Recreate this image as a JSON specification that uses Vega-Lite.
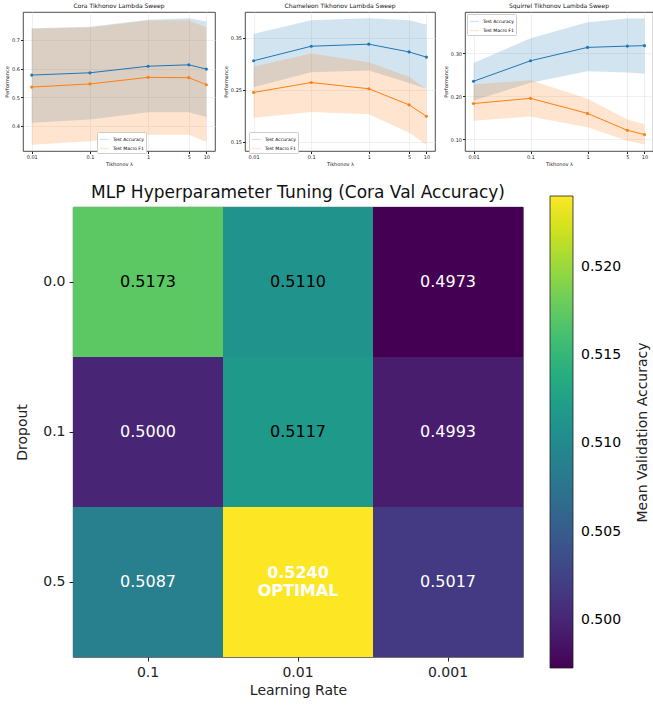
{
  "$schema": "https://vega.github.io/schema/vega-lite/v6.json",
  "background": "white",
  "padding": {"left": 4, "top": 2, "right": 1, "bottom": 2},
  "config": {
    "font": "DejaVu Sans",
    "view": {"stroke": "#222", "strokeWidth": 0.8},
    "axis": {"labelFont": "DejaVu Sans", "titleFont": "DejaVu Sans", "titleFontWeight": "normal", "labelColor": "#222", "titleColor": "#222", "domain": false, "tickColor": "#222", "labelOverlap": false},
    "title": {"font": "DejaVu Sans", "fontWeight": "normal", "color": "#111"},
    "legend": {"labelFont": "DejaVu Sans", "titleFont": "DejaVu Sans"}
  },
  "datasets": {
    "sweep": [
      {"dataset": "Cora", "lam": 0.01, "metric": "Test Accuracy", "mean": 0.577, "lo": 0.410, "hi": 0.741},
      {"dataset": "Cora", "lam": 0.1, "metric": "Test Accuracy", "mean": 0.585, "lo": 0.421, "hi": 0.746},
      {"dataset": "Cora", "lam": 1, "metric": "Test Accuracy", "mean": 0.608, "lo": 0.447, "hi": 0.771},
      {"dataset": "Cora", "lam": 5, "metric": "Test Accuracy", "mean": 0.613, "lo": 0.447, "hi": 0.776},
      {"dataset": "Cora", "lam": 10, "metric": "Test Accuracy", "mean": 0.598, "lo": 0.430, "hi": 0.765},
      {"dataset": "Cora", "lam": 0.01, "metric": "Test Macro F1", "mean": 0.535, "lo": 0.333, "hi": 0.739},
      {"dataset": "Cora", "lam": 0.1, "metric": "Test Macro F1", "mean": 0.546, "lo": 0.345, "hi": 0.744},
      {"dataset": "Cora", "lam": 1, "metric": "Test Macro F1", "mean": 0.569, "lo": 0.368, "hi": 0.768},
      {"dataset": "Cora", "lam": 5, "metric": "Test Macro F1", "mean": 0.568, "lo": 0.368, "hi": 0.769},
      {"dataset": "Cora", "lam": 10, "metric": "Test Macro F1", "mean": 0.543, "lo": 0.343, "hi": 0.744},
      {"dataset": "Chameleon", "lam": 0.01, "metric": "Test Accuracy", "mean": 0.306, "lo": 0.255, "hi": 0.358},
      {"dataset": "Chameleon", "lam": 0.1, "metric": "Test Accuracy", "mean": 0.334, "lo": 0.284, "hi": 0.384},
      {"dataset": "Chameleon", "lam": 1, "metric": "Test Accuracy", "mean": 0.338, "lo": 0.287, "hi": 0.388},
      {"dataset": "Chameleon", "lam": 5, "metric": "Test Accuracy", "mean": 0.323, "lo": 0.263, "hi": 0.384},
      {"dataset": "Chameleon", "lam": 10, "metric": "Test Accuracy", "mean": 0.313, "lo": 0.252, "hi": 0.376},
      {"dataset": "Chameleon", "lam": 0.01, "metric": "Test Macro F1", "mean": 0.245, "lo": 0.196, "hi": 0.295},
      {"dataset": "Chameleon", "lam": 0.1, "metric": "Test Macro F1", "mean": 0.264, "lo": 0.207, "hi": 0.320},
      {"dataset": "Chameleon", "lam": 1, "metric": "Test Macro F1", "mean": 0.252, "lo": 0.203, "hi": 0.303},
      {"dataset": "Chameleon", "lam": 5, "metric": "Test Macro F1", "mean": 0.221, "lo": 0.167, "hi": 0.275},
      {"dataset": "Chameleon", "lam": 10, "metric": "Test Macro F1", "mean": 0.199, "lo": 0.144, "hi": 0.251},
      {"dataset": "Squirrel", "lam": 0.01, "metric": "Test Accuracy", "mean": 0.2345, "lo": 0.190, "hi": 0.277},
      {"dataset": "Squirrel", "lam": 0.1, "metric": "Test Accuracy", "mean": 0.282, "lo": 0.231, "hi": 0.334},
      {"dataset": "Squirrel", "lam": 1, "metric": "Test Accuracy", "mean": 0.313, "lo": 0.258, "hi": 0.371},
      {"dataset": "Squirrel", "lam": 5, "metric": "Test Accuracy", "mean": 0.316, "lo": 0.255, "hi": 0.380},
      {"dataset": "Squirrel", "lam": 10, "metric": "Test Accuracy", "mean": 0.317, "lo": 0.252, "hi": 0.380},
      {"dataset": "Squirrel", "lam": 0.01, "metric": "Test Macro F1", "mean": 0.183, "lo": 0.143, "hi": 0.227},
      {"dataset": "Squirrel", "lam": 0.1, "metric": "Test Macro F1", "mean": 0.195, "lo": 0.153, "hi": 0.237},
      {"dataset": "Squirrel", "lam": 1, "metric": "Test Macro F1", "mean": 0.160, "lo": 0.128, "hi": 0.194},
      {"dataset": "Squirrel", "lam": 5, "metric": "Test Macro F1", "mean": 0.121, "lo": 0.097, "hi": 0.146},
      {"dataset": "Squirrel", "lam": 10, "metric": "Test Macro F1", "mean": 0.111, "lo": 0.088, "hi": 0.135}
    ],
    "grid": [
      {"dropout": "0.0", "lr": "0.1", "acc": 0.5173, "label": "0.5173", "optimal": false},
      {"dropout": "0.0", "lr": "0.01", "acc": 0.5110, "label": "0.5110", "optimal": false},
      {"dropout": "0.0", "lr": "0.001", "acc": 0.4973, "label": "0.4973", "optimal": false},
      {"dropout": "0.1", "lr": "0.1", "acc": 0.5000, "label": "0.5000", "optimal": false},
      {"dropout": "0.1", "lr": "0.01", "acc": 0.5117, "label": "0.5117", "optimal": false},
      {"dropout": "0.1", "lr": "0.001", "acc": 0.4993, "label": "0.4993", "optimal": false},
      {"dropout": "0.5", "lr": "0.1", "acc": 0.5087, "label": "0.5087", "optimal": false},
      {"dropout": "0.5", "lr": "0.01", "acc": 0.5240, "label": "0.5240\nOPTIMAL", "optimal": true},
      {"dropout": "0.5", "lr": "0.001", "acc": 0.5017, "label": "0.5017", "optimal": false}
    ]
  },
  "resolve": {"scale": {"color": "independent"}, "legend": {"color": "independent"}},
  "spacing": 16,
  "vconcat": [
    {
      "resolve": {"scale": {"color": "independent", "y": "independent"}, "legend": {"color": "independent"}},
      "spacing": 6,
      "hconcat": [
        {
          "width": 192, "height": 139,
          "title": {"text": "Cora Tikhonov Lambda Sweep", "fontSize": 6, "offset": 3},
          "data": {"name": "sweep"},
          "transform": [{"filter": "datum.dataset === 'Cora'"}],
          "encoding": {
            "x": {"field": "lam", "type": "quantitative", "scale": {"type": "log", "domain": [0.00708, 14.1], "nice": false, "zero": false},
              "axis": {"title": "Tikhonov λ", "values": [0.01, 0.1, 1, 5, 10], "format": "~g", "labelFontSize": 5, "titleFontSize": 5, "tickSize": 2.5, "labelPadding": 1, "titlePadding": 2, "gridColor": "#e6e6e6", "gridWidth": 0.6}}
          },
          "layer": [
            {
              "mark": {"type": "area", "opacity": 0.2},
              "encoding": {
                "y": {"field": "lo", "type": "quantitative", "scale": {"domain": [0.311, 0.798], "nice": false, "zero": false},
                  "axis": {"title": "Performance", "values": [0.4, 0.5, 0.6, 0.7], "format": ".1f", "labelFontSize": 5, "titleFontSize": 5, "tickSize": 2.5, "labelPadding": 1, "titlePadding": 2, "gridColor": "#e6e6e6", "gridWidth": 0.6}},
                "y2": {"field": "hi"},
                "color": {"field": "metric", "type": "nominal", "scale": {"domain": ["Test Accuracy", "Test Macro F1"], "range": ["#1f77b4", "#ff7f0e"]}}
              }
            },
            {
              "mark": {"type": "line", "strokeWidth": 1, "point": {"size": 10, "filled": true}},
              "encoding": {
                "y": {"field": "mean", "type": "quantitative"},
                "color": {"field": "metric", "type": "nominal",
                  "legend": {"title": null, "orient": "none", "legendX": 74, "legendY": 120, "labelFontSize": 4.5, "symbolSize": 80, "symbolType": "M-1,0H1", "symbolStrokeWidth": 1.2, "symbolOpacity": 1, "rowPadding": 1, "padding": 2, "strokeColor": "#ccc", "fillColor": "white", "cornerRadius": 1, "labelOffset": 3}}
              }
            }
          ]
        },
        {
          "width": 190, "height": 139,
          "title": {"text": "Chameleon Tikhonov Lambda Sweep", "fontSize": 6, "offset": 3},
          "data": {"name": "sweep"},
          "transform": [{"filter": "datum.dataset === 'Chameleon'"}],
          "encoding": {
            "x": {"field": "lam", "type": "quantitative", "scale": {"type": "log", "domain": [0.00708, 14.1], "nice": false, "zero": false},
              "axis": {"title": "Tikhonov λ", "values": [0.01, 0.1, 1, 5, 10], "format": "~g", "labelFontSize": 5, "titleFontSize": 5, "tickSize": 2.5, "labelPadding": 1, "titlePadding": 2, "gridColor": "#e6e6e6", "gridWidth": 0.6}}
          },
          "layer": [
            {
              "mark": {"type": "area", "opacity": 0.2},
              "encoding": {
                "y": {"field": "lo", "type": "quantitative", "scale": {"domain": [0.132, 0.400], "nice": false, "zero": false},
                  "axis": {"title": "Performance", "values": [0.15, 0.2, 0.25, 0.3, 0.35, 0.4], "format": ".2f", "labelFontSize": 5, "titleFontSize": 5, "tickSize": 2.5, "labelPadding": 1, "titlePadding": 2, "gridColor": "#e6e6e6", "gridWidth": 0.6}},
                "y2": {"field": "hi"},
                "color": {"field": "metric", "type": "nominal", "scale": {"domain": ["Test Accuracy", "Test Macro F1"], "range": ["#1f77b4", "#ff7f0e"]}}
              }
            },
            {
              "mark": {"type": "line", "strokeWidth": 1, "point": {"size": 10, "filled": true}},
              "encoding": {
                "y": {"field": "mean", "type": "quantitative"},
                "color": {"field": "metric", "type": "nominal",
                  "legend": {"title": null, "orient": "none", "legendX": 4, "legendY": 120, "labelFontSize": 4.5, "symbolSize": 80, "symbolType": "M-1,0H1", "symbolStrokeWidth": 1.2, "symbolOpacity": 1, "rowPadding": 1, "padding": 2, "strokeColor": "#ccc", "fillColor": "white", "cornerRadius": 1, "labelOffset": 3}}
              }
            }
          ]
        },
        {
          "width": 188, "height": 139,
          "title": {"text": "Squirrel Tikhonov Lambda Sweep", "fontSize": 6, "offset": 3},
          "data": {"name": "sweep"},
          "transform": [{"filter": "datum.dataset === 'Squirrel'"}],
          "encoding": {
            "x": {"field": "lam", "type": "quantitative", "scale": {"type": "log", "domain": [0.00708, 14.1], "nice": false, "zero": false},
              "axis": {"title": "Tikhonov λ", "values": [0.01, 0.1, 1, 5, 10], "format": "~g", "labelFontSize": 5, "titleFontSize": 5, "tickSize": 2.5, "labelPadding": 1, "titlePadding": 2, "gridColor": "#e6e6e6", "gridWidth": 0.6}}
          },
          "layer": [
            {
              "mark": {"type": "area", "opacity": 0.2},
              "encoding": {
                "y": {"field": "lo", "type": "quantitative", "scale": {"domain": [0.073, 0.395], "nice": false, "zero": false},
                  "axis": {"title": "Performance", "values": [0.1, 0.15, 0.2, 0.25, 0.3, 0.35], "format": ".2f", "labelFontSize": 5, "titleFontSize": 5, "tickSize": 2.5, "labelPadding": 1, "titlePadding": 2, "gridColor": "#e6e6e6", "gridWidth": 0.6}},
                "y2": {"field": "hi"},
                "color": {"field": "metric", "type": "nominal", "scale": {"domain": ["Test Accuracy", "Test Macro F1"], "range": ["#1f77b4", "#ff7f0e"]}}
              }
            },
            {
              "mark": {"type": "line", "strokeWidth": 1, "point": {"size": 10, "filled": true}},
              "encoding": {
                "y": {"field": "mean", "type": "quantitative"},
                "color": {"field": "metric", "type": "nominal",
                  "legend": {"title": null, "orient": "none", "legendX": 2, "legendY": 2, "labelFontSize": 4.5, "symbolSize": 80, "symbolType": "M-1,0H1", "symbolStrokeWidth": 1.2, "symbolOpacity": 1, "rowPadding": 1, "padding": 2, "strokeColor": "#ccc", "fillColor": "white", "cornerRadius": 1, "labelOffset": 3}}
              }
            }
          ]
        }
      ]
    },
    {
      "spacing": -9,
      "hconcat": [
        {
          "width": 1, "height": 450,
          "view": {"stroke": null},
          "data": {"name": "grid"},
          "mark": {"type": "rule", "opacity": 0},
          "encoding": {}
        },
        {
          "width": 450, "height": 450,
          "title": {"text": "MLP Hyperparameter Tuning (Cora Val Accuracy)", "fontSize": 17, "offset": 5},
          "data": {"name": "grid"},
          "resolve": {"axis": {"y": "independent"}},
          "encoding": {
            "x": {"field": "lr", "type": "nominal", "sort": ["0.1", "0.01", "0.001"],
              "axis": {"title": "Learning Rate", "labelAngle": 0, "labelFontSize": 14, "titleFontSize": 14, "tickSize": 4, "labelPadding": 4, "titlePadding": 4, "grid": false}}
          },
          "layer": [
            {
              "mark": {"type": "rect"},
              "encoding": {
                "y": {"field": "dropout", "type": "nominal", "sort": ["0.0", "0.1", "0.5"],
                  "axis": {"title": "Dropout", "labelFontSize": 14, "titleFontSize": 14, "tickSize": 4, "labelPadding": 4, "titlePadding": 13, "grid": false}},
                "color": {"field": "acc", "type": "quantitative",
                  "scale": {"scheme": "viridis", "domain": [0.4973, 0.524], "nice": false, "zero": false},
                  "legend": {"title": null, "orient": "none", "legendX": 527, "legendY": -11, "gradientLength": 472, "gradientThickness": 23, "values": [0.5, 0.505, 0.51, 0.515, 0.52], "format": ".3f", "labelFontSize": 14, "labelOffset": 8, "gradientStrokeColor": "#222", "gradientStrokeWidth": 0.8, "direction": "vertical", "padding": 0}
                }
              }
            },
            {
              "transform": [{"filter": "!datum.optimal"}],
              "mark": {"type": "text", "fontSize": 16},
              "encoding": {
                "y": {"field": "dropout", "type": "nominal", "sort": ["0.0", "0.1", "0.5"], "axis": null},
                "text": {"field": "label"},
                "color": {"condition": {"test": "datum.acc > 0.5107", "value": "black"}, "value": "white"}
              }
            },
            {
              "transform": [{"filter": "datum.optimal"}],
              "mark": {"type": "text", "fontSize": 16, "fontWeight": "bold", "lineBreak": "\n", "lineHeight": 18, "color": "white", "dy": -9, "baseline": "middle"},
              "encoding": {
                "y": {"field": "dropout", "type": "nominal", "sort": ["0.0", "0.1", "0.5"],
                  "axis": {"orient": "right", "title": "Mean Validation Accuracy", "titleAngle": 270, "titleFontSize": 14, "labels": false, "ticks": false, "domain": false, "grid": false, "titlePadding": 126}},
                "text": {"field": "label"}
              }
            }
          ]
        }
      ]
    }
  ]
}
